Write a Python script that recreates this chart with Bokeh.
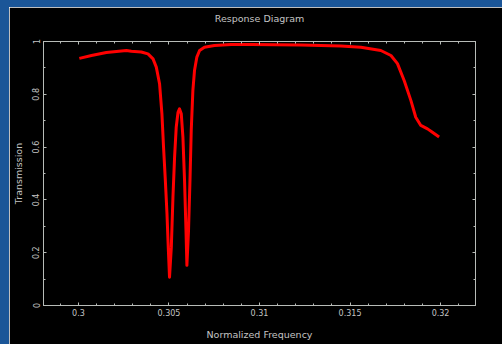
from bokeh.plotting import figure
from bokeh.models import LinearAxis, FixedTicker, Range1d
from bokeh.embed import file_html
from bokeh.resources import INLINE

# ---- data ----
freq = [0.30005, 0.30072, 0.30154, 0.30265, 0.30292, 0.30347, 0.30384, 0.30412,
        0.30430, 0.30448, 0.30461, 0.30470, 0.30480, 0.30489, 0.30496, 0.30503,
        0.30513, 0.30522, 0.30531, 0.30540, 0.30550, 0.30558, 0.30568, 0.30577,
        0.30586, 0.30594, 0.30599, 0.30608, 0.30616, 0.30623, 0.30632, 0.30641,
        0.30654, 0.30669, 0.30696, 0.30751, 0.30843, 0.30954, 0.31229, 0.31450,
        0.31560, 0.31670, 0.31726, 0.31762, 0.31799, 0.31836, 0.31863, 0.31891,
        0.31928, 0.31955, 0.31992]
trans = [0.936, 0.947, 0.958, 0.966, 0.963, 0.960, 0.953, 0.934,
         0.903, 0.840, 0.727, 0.600, 0.473, 0.348, 0.221, 0.107,
         0.221, 0.410, 0.562, 0.675, 0.732, 0.745, 0.726, 0.638,
         0.473, 0.284, 0.152, 0.284, 0.473, 0.663, 0.814, 0.890,
         0.941, 0.966, 0.978, 0.985, 0.989, 0.989, 0.987, 0.983,
         0.978, 0.966, 0.947, 0.916, 0.852, 0.777, 0.713, 0.682,
         0.669, 0.656, 0.638]

x_major = [0.3, 0.305, 0.31, 0.315, 0.32]
x_labels = ["0.3", "0.305", "0.31", "0.315", "0.32"]
x_minor = [0.298, 0.299, 0.301, 0.302, 0.303, 0.304, 0.306, 0.307, 0.308, 0.309,
           0.311, 0.312, 0.313, 0.314, 0.316, 0.317, 0.318, 0.319, 0.321]
y_major = [0.0, 0.2, 0.4, 0.6, 0.8, 1.0]
y_labels = ["0", "0.2", "0.4", "0.6", "0.8", "1"]
y_minor = [0.1, 0.3, 0.5, 0.7, 0.9]

title_text = "Response Diagram"
x_title = "Normalized Frequency"
y_title = "Transmission"

# ---- styling ----
BG = "#000000"
BLUE = "#1b5698"
AXC = "#b8bcb8"
TXC = "#c4c4c4"
FONT = "DejaVu Sans"

p = figure(width=493, height=337,
           x_range=Range1d(0.29807, 0.32193), y_range=Range1d(0, 1),
           output_backend="svg", toolbar_location=None,
           background_fill_color=BG, border_fill_color=BG,
           min_border_left=33, min_border_right=27,
           min_border_top=34, min_border_bottom=39,
           styles={"margin-left": "9px", "margin-top": "7px",
                   "box-shadow": "0 0 0 9px " + BLUE})

xa = p.below[0]
ya = p.left[0]

p.grid.visible = False
p.outline_line_color = AXC
p.outline_line_width = 1

p.line(freq, trans, line_color="#ff0000", line_width=3, line_join="round")

xt = FixedTicker(ticks=x_major, minor_ticks=x_minor)
yt = FixedTicker(ticks=y_major, minor_ticks=y_minor)

# the top axis carries the plot title as its label
top = LinearAxis(ticker=xt)
right = LinearAxis(ticker=yt)
p.add_layout(top, "above")
p.add_layout(right, "right")

def style(ax):
    ax.axis_line_color = AXC
    ax.major_tick_line_color = AXC
    ax.minor_tick_line_color = AXC
    ax.major_tick_in = 3
    ax.major_tick_out = 0
    ax.minor_tick_in = 2
    ax.minor_tick_out = 0
    ax.major_label_text_color = TXC
    ax.major_label_text_font = FONT
    ax.major_label_text_font_size = "8px"
    ax.axis_label_text_color = TXC
    ax.axis_label_text_font = FONT
    ax.axis_label_text_font_size = "9.5px"
    ax.axis_label_text_font_style = "normal"

for ax in [xa, ya, top, right]:
    style(ax)

xa.ticker = xt
xa.major_label_overrides = dict(zip(x_major, x_labels))
xa.axis_label = x_title
xa.major_label_standoff = 3
xa.axis_label_standoff = 10

ya.ticker = yt
ya.major_label_overrides = dict(zip(y_major, y_labels))
ya.axis_label = y_title
ya.major_label_orientation = "vertical"
ya.major_label_standoff = 4
ya.axis_label_standoff = 6

top.major_label_overrides = {t: "" for t in x_major}
right.major_label_overrides = {t: "" for t in y_major}
for ax in [top, right]:
    ax.major_label_standoff = 0

top.axis_label = title_text
top.axis_label_standoff = 18

open("out.html", "w").write(file_html(p, INLINE))
